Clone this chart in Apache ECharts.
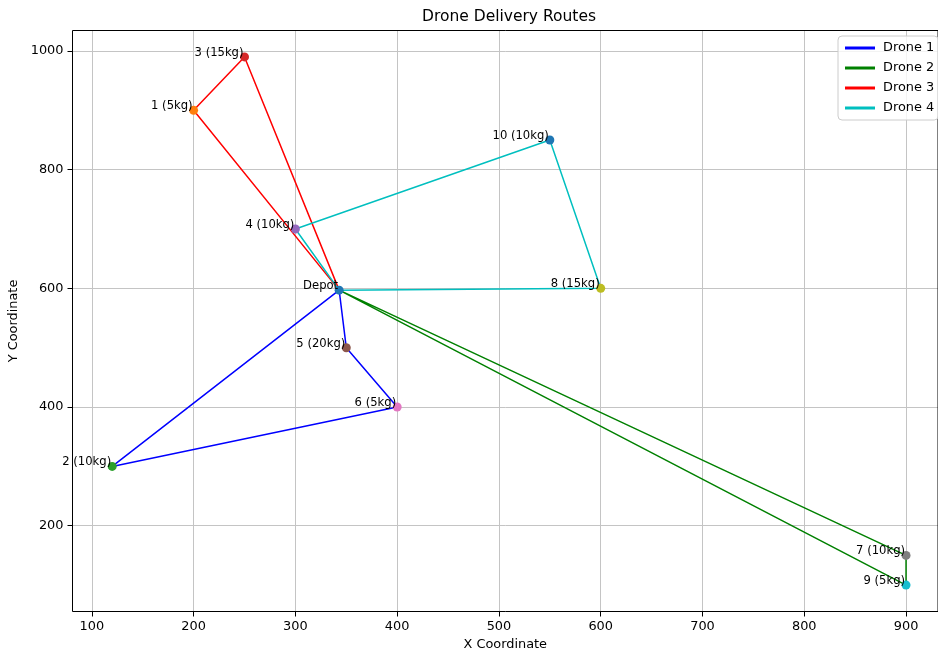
<!DOCTYPE html>
<html>
<head>
<meta charset="utf-8">
<script src="https://cdn.jsdelivr.net/npm/echarts@6/dist/echarts.min.js"></script>
<style>html,body{margin:0;padding:0;background:#fff}#c{width:938px;height:655px}</style>
</head>
<body>
<div id="c"></div>
<script>
// Points: index 0 is the depot
const pointNames = ['Depot', '1', '2', '3', '4', '5', '6', '7', '8', '9', '10'];
const pointX = [343, 200, 120, 250, 300, 350, 400, 900, 600, 900, 550];
const pointY = [597, 900, 300, 990, 700, 500, 400, 150, 600, 100, 850];
const pointWeights = [null, 5, 10, 15, 10, 20, 5, 10, 15, 5, 10];
const pointColors = ['#1f77b4','#ff7f0e','#2ca02c','#d62728','#9467bd','#8c564b','#e377c2','#7f7f7f','#bcbd22','#17becf','#1f77b4'];

const droneNames = ['Drone 1', 'Drone 2', 'Drone 3', 'Drone 4'];
const droneColors = ['#0000ff', '#008000', '#ff0000', '#00bfbf'];
const droneRoutes = [
  [0, 5, 6, 2, 0],
  [0, 7, 9, 0],
  [0, 1, 3, 0],
  [0, 4, 10, 8, 0]
];

const xTicks = [100, 200, 300, 400, 500, 600, 700, 800, 900];
const yTicks = [200, 400, 600, 800, 1000];

const FONT = 'DejaVu Sans';
const chart = echarts.init(document.getElementById('c'));

const series = droneRoutes.map((route, d) => ({
  name: droneNames[d],
  type: 'line',
  data: route.map(i => [pointX[i], pointY[i]]),
  showSymbol: false,
  symbol: 'none',
  lineStyle: { color: droneColors[d], width: 1.5 },
  itemStyle: { color: droneColors[d] },
  z: 2,
  animation: false,
  silent: true
}));

series.push({
  type: 'scatter',
  symbolSize: 9,
  z: 5,
  animation: false,
  itemStyle: { opacity: 1 },
  data: pointNames.map((n, i) => ({
    value: [pointX[i], pointY[i]],
    name: i === 0 ? 'Depot' : (n + ' (' + pointWeights[i] + 'kg)'),
    itemStyle: { color: pointColors[i], opacity: 1 }
  })),
  label: {
    show: true,
    formatter: p => p.name,
    position: ['50%', '50%'],
    align: 'right',
    verticalAlign: 'bottom',
    offset: [-1, 2],
    fontFamily: FONT,
    fontSize: 11.6,
    color: '#000'
  }
});

const axisCommon = {
  type: 'value',
  axisLine: { show: false },
  axisTick: { show: true, length: 5, lineStyle: { color: '#000', width: 1 } },
  axisLabel: { color: '#000', fontFamily: FONT, fontSize: 12.9, margin: 9, formatter: v => String(v) },
  splitLine: { show: true, lineStyle: { color: '#c4c4c4', width: 1 } },
  nameTextStyle: { color: '#000', fontFamily: FONT, fontSize: 12.9 },
  nameLocation: 'middle'
};

chart.setOption({
  animation: false,
  backgroundColor: '#fff',
  grid: { left: 72.5, right: 0, top: 30.5, bottom: 43.5, containLabel: false, outerBoundsMode: 'none', show: true, borderColor: '#000', borderWidth: 1, backgroundColor: 'transparent', z: 3 },
  xAxis: Object.assign({}, axisCommon, {
    min: 81, max: 931.4,
    name: 'X Coordinate', nameGap: 27,
    axisTick: Object.assign({}, axisCommon.axisTick, { customValues: xTicks }),
    axisLabel: Object.assign({}, axisCommon.axisLabel, { customValues: xTicks })
  }),
  yAxis: Object.assign({}, axisCommon, {
    min: 55.5, max: 1034.5,
    name: 'Y Coordinate', nameGap: 43, nameRotate: 90,
    axisTick: Object.assign({}, axisCommon.axisTick, { customValues: yTicks }),
    axisLabel: Object.assign({}, axisCommon.axisLabel, { customValues: yTicks })
  }),
  legend: {
    orient: 'vertical',
    left: 838, top: 36,
    padding: [5, 4, 5, 7],
    itemWidth: 30, itemHeight: 3,
    itemGap: 6,
    borderColor: '#cccccc', borderWidth: 1, borderRadius: 4,
    backgroundColor: 'rgba(255,255,255,0.8)',
    textStyle: { color: '#000', fontFamily: FONT, fontSize: 12.9, lineHeight: 14, padding: [0, 0, 0, 3] },
    data: droneNames.map(n => ({ name: n, icon: 'rect' }))
  },
  graphic: [{
    type: 'text', x: 509, y: 17,
    style: { text: 'Drone Delivery Routes', fontFamily: FONT, fontSize: 15.5, fill: '#000', align: 'center', verticalAlign: 'middle' }
  }],
  series: series
});
</script>
</body>
</html>
